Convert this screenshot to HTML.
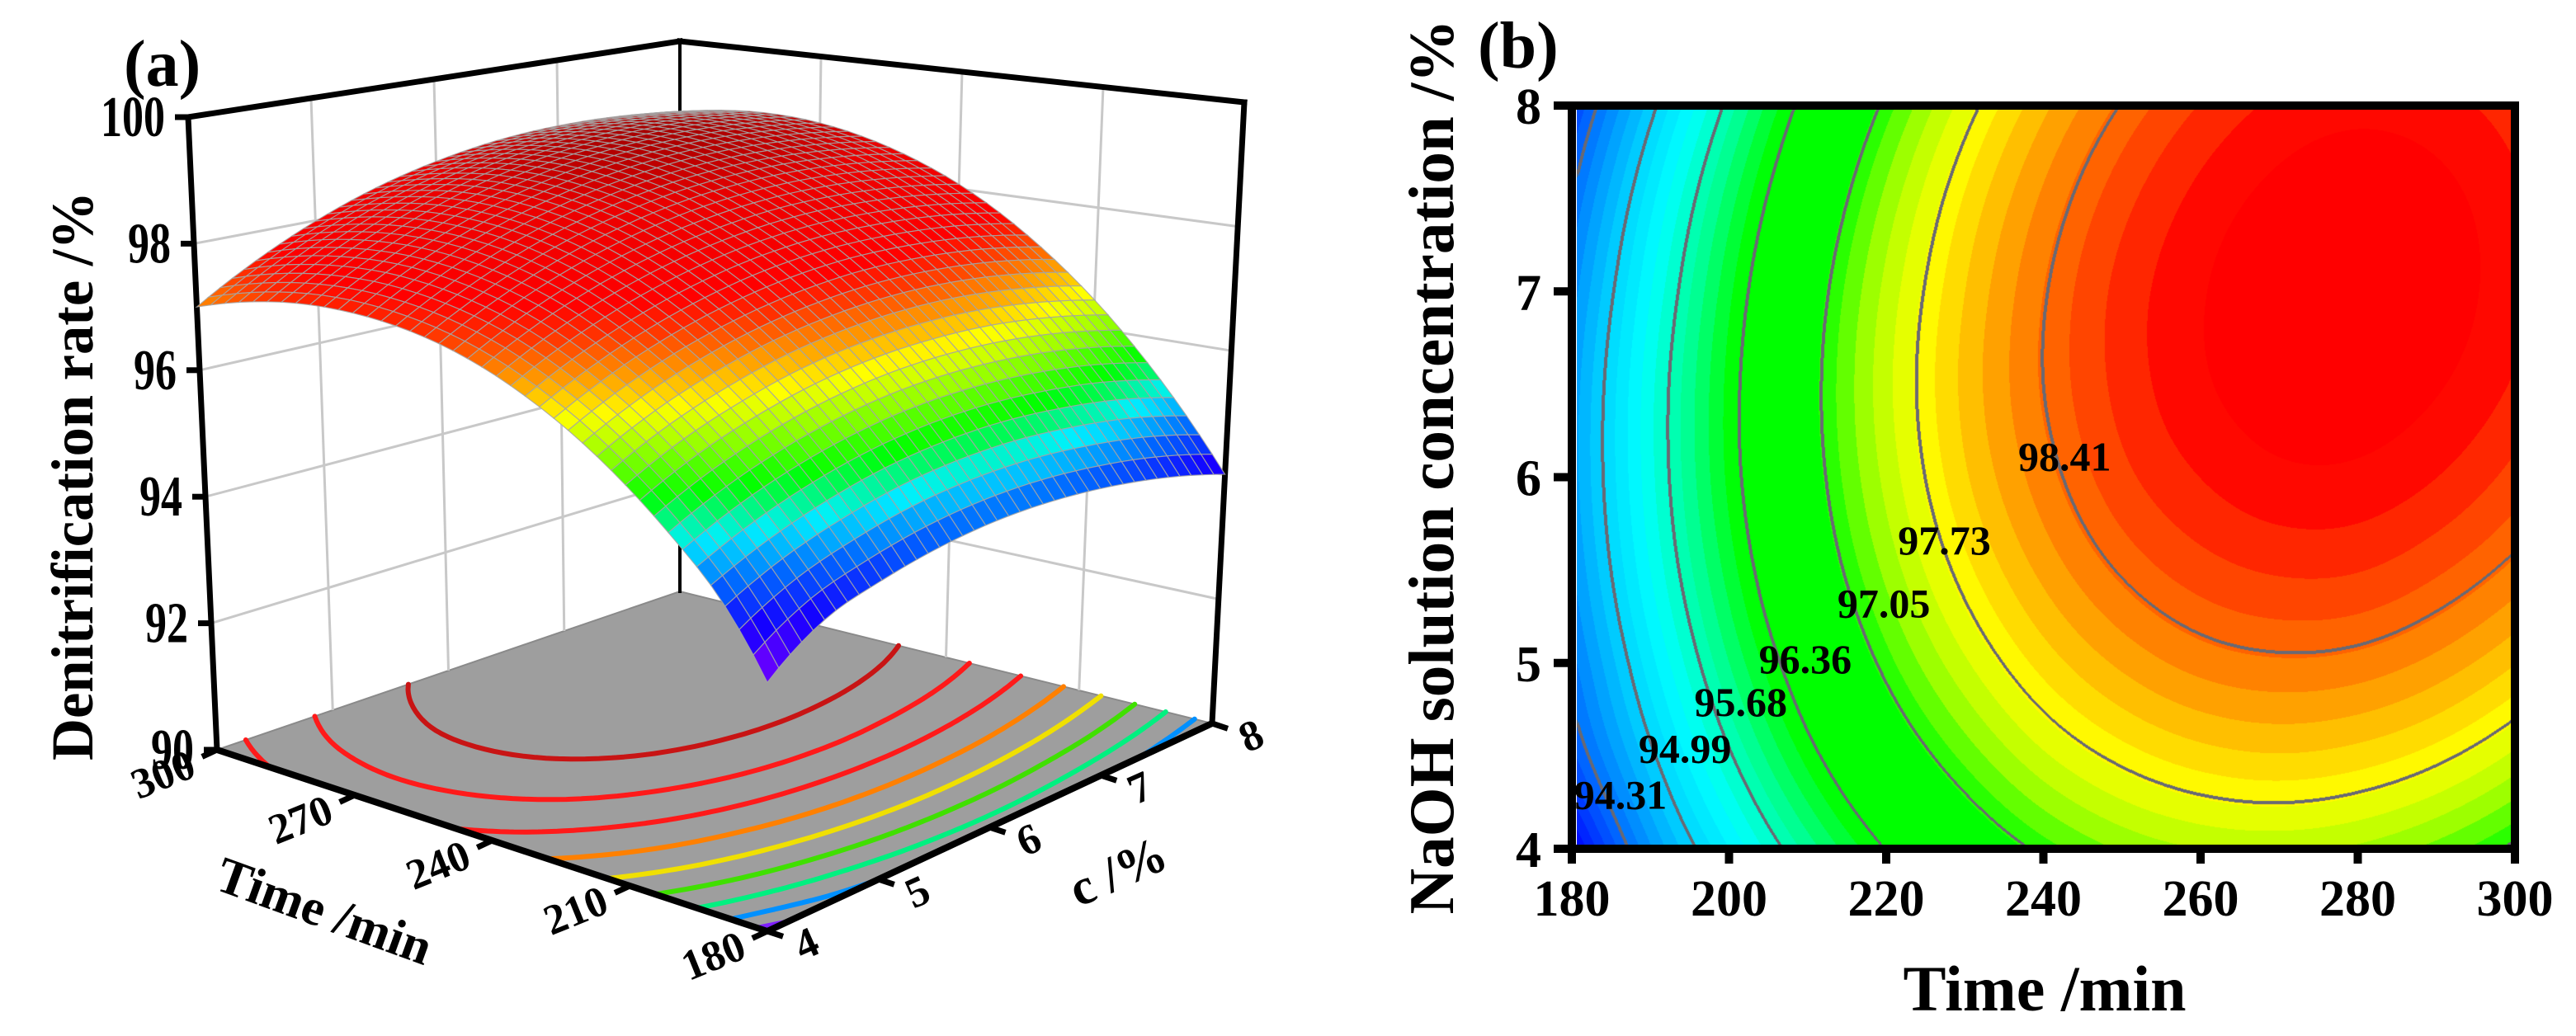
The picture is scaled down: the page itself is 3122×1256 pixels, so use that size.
<!DOCTYPE html>
<html><head><meta charset="utf-8"><style>
html,body{margin:0;padding:0;background:#fff;}
body{width:3122px;height:1256px;position:relative;overflow:hidden;font-family:"Liberation Serif",serif;}
#heatmap{position:absolute;left:1911px;top:133px;}
#chart-svg{position:absolute;left:0;top:0;}
text{font-family:"Liberation Serif",serif;font-weight:bold;fill:#000;}
</style></head><body>
<canvas id="heatmap" width="1132" height="892"></canvas>
<svg id="chart-svg" width="3122" height="1256" viewBox="0 0 3122 1256" xmlns="http://www.w3.org/2000/svg">
<g id="g3d"></g>
<g id="g2d"></g>
<text x="150" y="104" font-size="80">(a)</text>
<text x="1791" y="82" font-size="80">(b)</text>
<text transform="translate(112,577) rotate(-90)" text-anchor="middle" font-size="72" textLength="690" lengthAdjust="spacingAndGlyphs">Denitrification rate /%</text>
<text transform="translate(393,1105) rotate(20)" text-anchor="middle" dominant-baseline="central" font-size="62">Time /min</text>
<text transform="translate(1355,1057) rotate(-24)" text-anchor="middle" dominant-baseline="central" font-size="62">c /%</text>
<text x="2478" y="1225" text-anchor="middle" font-size="78">Time /min</text>
<text transform="translate(1761,566) rotate(-90)" text-anchor="middle" font-size="77" textLength="1085" lengthAdjust="spacingAndGlyphs">NaOH solution concentration /%</text>
</svg>
<script>
const timeVals=[180,190,200,210,220,230,240,250,260,270,280,290,300];
const concVals=[4,4.5,5,5.5,6,6.5,7,7.5,8];
const rateGrid=[
[93.55,94.13,94.39,94.56,94.64,94.62,94.51,94.31,94.01],
[94.56,94.94,95.21,95.40,95.49,95.49,95.39,95.21,94.92],
[95.26,95.65,95.94,96.14,96.25,96.26,96.18,96.01,95.74],
[95.86,96.27,96.57,96.79,96.91,96.94,96.88,96.72,96.47],
[96.37,96.79,97.11,97.34,97.48,97.53,97.48,97.34,97.10],
[96.78,97.21,97.55,97.80,97.96,98.02,97.98,97.86,97.64],
[97.10,97.55,97.90,98.16,98.33,98.41,98.39,98.28,98.08],
[97.32,97.78,98.15,98.43,98.62,98.71,98.71,98.61,98.42],
[97.44,97.92,98.31,98.60,98.80,98.91,98.92,98.84,98.67],
[97.47,97.97,98.37,98.68,98.90,99.02,99.05,98.98,98.83],
[97.41,97.92,98.34,98.67,98.90,99.03,99.08,99.03,98.89],
[97.25,97.78,98.21,98.55,98.80,98.95,99.01,98.98,98.85],
[97.00,97.54,97.99,98.35,98.61,98.78,98.85,98.83,98.72]];
const contourLevels=[94.31,94.99,95.68,96.36,97.05,97.73,98.41];
const labelTimes=[186.2,194.4,201.5,209.7,219.7,227.4,242.7];
const labelConcs=[4.29,4.54,4.79,5.02,5.32,5.66,6.11];
const xTicks=[180,200,220,240,260,280,300];
const yTicks=[4,5,6,7,8];
const zTicks3d=[90,92,94,96,98,100];
const timeTicks3d=[180,210,240,270,300];
const concTicks3d=[4,5,6,7,8];
const floorLevels=[93.8,94.38,94.96,95.54,96.12,96.7,97.28,97.86,98.44];
const floorColors=['#7f1fff','#0090ff','#00f080','#40e000','#f0e000','#ff8000','#ff1a1a','#ff1a1a','#c81414'];
const surfZ=[93.6,94.2,94.7,95.2,95.7,96.2,96.6,97.0,97.4,97.7,98.6,99.1];
const surfRGB=[[130,0,255],[20,0,255],[0,100,255],[0,240,255],[0,255,0],[150,255,0],[255,255,0],[255,150,0],[255,50,0],[255,0,0],[235,0,0],[165,0,0]];
const mapZ=[93.6,94.3,95.0,95.4,95.9,96.3,97.0,97.4,97.75,98.1,98.5,98.9];
const mapRGB=[[0,0,255],[0,110,255],[0,215,255],[0,255,255],[0,255,140],[0,255,0],[0,255,0],[170,255,0],[255,255,0],[255,180,0],[255,90,0],[255,0,0]];

const NS='http://www.w3.org/2000/svg';
const NI=timeVals.length, NJ=concVals.length;
function gv(i,j){
  if(i<0) return 3*gv(0,j)-3*gv(1,j)+gv(2,j);
  if(i>=NI) return 3*gv(NI-1,j)-3*gv(NI-2,j)+gv(NI-3,j);
  if(j<0) return 3*gv(i,0)-3*gv(i,1)+gv(i,2);
  if(j>=NJ) return 3*gv(i,NJ-1)-3*gv(i,NJ-2)+gv(i,NJ-3);
  return rateGrid[i][j];
}
const ext=[];
for(let i=-1;i<=NI;i++){const row=[];for(let j=-1;j<=NJ;j++)row.push(gv(i,j));ext.push(row);}
function kern(x){x=Math.abs(x);if(x<=1)return 1.5*x*x*x-2.5*x*x+1;if(x<2)return -0.5*x*x*x+2.5*x*x-4*x+2;return 0;}
function rate(t,c){
  const fx=(t-timeVals[0])/(timeVals[1]-timeVals[0]);
  const fy=(c-concVals[0])/(concVals[1]-concVals[0]);
  const i=Math.min(Math.max(Math.floor(fx),0),NI-2);
  const j=Math.min(Math.max(Math.floor(fy),0),NJ-2);
  const sx=fx-i, sy=fy-j;
  let z=0;
  for(let a=-1;a<=2;a++){const wa=kern(sx-a);if(wa===0)continue;
    for(let b=-1;b<=2;b++){const wb=kern(sy-b);if(wb===0)continue;z+=wa*wb*ext[i+a+1][j+b+1];}}
  return z;
}
function cmap(zs,cols,z){
  if(z<=zs[0])return cols[0];
  for(let k=1;k<zs.length;k++){if(z<=zs[k]){const f=(z-zs[k-1])/(zs[k]-zs[k-1]);
    return [0,1,2].map(q=>Math.round(cols[k-1][q]+f*(cols[k][q]-cols[k-1][q])));}}
  return cols[cols.length-1];
}
function mk(tag,attrs,parent){const e=document.createElementNS(NS,tag);for(const k in attrs)e.setAttribute(k,attrs[k]);parent.appendChild(e);return e;}

/* ---------------- 2D contour panel ---------------- */
const X0=1905,X1=3048,Y0=1029,Y1=128;
function xs(t){return X0+(t-180)/120*(X1-X0);}
function ys(c){return Y0-(c-4)/4*(Y0-Y1);}
(function(){
  const cv=document.getElementById('heatmap');const ctx=cv.getContext('2d');
  const W=cv.width,H=cv.height;const img=ctx.createImageData(W,H);
  const zb=new Float32Array(W*H);const idx=new Int8Array(W*H);
  const step=(contourLevels[1]-contourLevels[0])/5;
  for(let py=0;py<H;py++){const c=4+(Y0-(133+py+0.5))/(Y0-Y1)*4;
    for(let px=0;px<W;px++){const t=180+(1911+px+0.5-X0)/(X1-X0)*120;
      const z=rate(t,c);zb[py*W+px]=z;let n=0;for(const L of contourLevels)if(z>=L)n++;idx[py*W+px]=n;}}
  for(let py=0;py<H;py++)for(let px=0;px<W;px++){
    const p=py*W+px;const z=zb[p];
    const zq=contourLevels[0]+(Math.floor((z-contourLevels[0])/step)+0.5)*step;
    let col=cmap(mapZ,mapRGB,zq);
    const n=idx[p];let line=false;
    if(px>=2&&idx[p-2]!==n)line=true;else if(px<W-2&&idx[p+2]!==n)line=true;
    else if(py>=2&&idx[p-2*W]!==n)line=true;else if(py<H-2&&idx[p+2*W]!==n)line=true;
    if(line)col=[105,105,115];
    img.data[p*4]=col[0];img.data[p*4+1]=col[1];img.data[p*4+2]=col[2];img.data[p*4+3]=255;}
  ctx.putImageData(img,0,0);
  const g=document.getElementById('g2d');
  for(let k=0;k<contourLevels.length;k++){
    const tx=mk('text',{x:xs(labelTimes[k]),y:ys(labelConcs[k]),'text-anchor':'middle','dominant-baseline':'central','font-size':50},g);
    
    
    tx.textContent=contourLevels[k].toFixed(2);}
  const fr=mk('rect',{x:X0,y:Y1,width:X1-X0,height:Y0-Y1,fill:'none',stroke:'#000','stroke-width':10},g);
  
  
  for(const t of xTicks){
    const l=mk('line',{x1:xs(t),x2:xs(t),y1:Y0,y2:Y0+18,stroke:'#000','stroke-width':10},g);
    
    
    const tx=mk('text',{x:xs(t),y:1110,'text-anchor':'middle','font-size':62},g);
    
    
    tx.textContent=t;}
  for(const c of yTicks){
    const l=mk('line',{x1:X0,x2:X0-22,y1:ys(c),y2:ys(c),stroke:'#000','stroke-width':10},g);
    
    
    const tx=mk('text',{x:1868,y:ys(c)+22,'text-anchor':'end','font-size':62},g);
    
    
    tx.textContent=c;}
})();

/* ---------------- 3D surface panel ---------------- */
const FLO={F:[930,1129],L:[263,909],R:[1469,877],B:[824,717]};
const TOP={F:[930,279],L:[228,142],R:[1508,124],B:[824,50]};
function bil(q,u,v){return [0,1].map(k=>(1-u)*(1-v)*q.F[k]+u*(1-v)*q.L[k]+(1-u)*v*q.R[k]+u*v*q.B[k]);}
function proj(t,c,z){const u=(t-180)/120,v=(c-4)/4,w=(z-90)/10;const a=bil(FLO,u,v),b=bil(TOP,u,v);return [a[0]+w*(b[0]-a[0]),a[1]+w*(b[1]-a[1])];}
function pts(arr){return arr.map(p=>p[0].toFixed(1)+','+p[1].toFixed(1)).join(' ');}
(function(){
  const g=document.getElementById('g3d');
  const fl=mk('polygon',{points:pts([proj(180,4,90),proj(300,4,90),proj(300,8,90),proj(180,8,90)]),fill:'#9e9e9e',stroke:'#8a8a8a','stroke-width':2},g);
  
  
  for(const c of [5,6,7]){const a=proj(300,c,90),b=proj(300,c,100);
    const l=mk('line',{x1:a[0],y1:a[1],x2:b[0],y2:b[1],stroke:'#c8c8c8','stroke-width':3},g);
    
    }
  for(const t of [210,240,270]){const a=proj(t,8,90),b=proj(t,8,100);
    const l=mk('line',{x1:a[0],y1:a[1],x2:b[0],y2:b[1],stroke:'#c8c8c8','stroke-width':3},g);
    
    }
  for(const z of zTicks3d.slice(1,-1)){
    const p=[proj(300,4,z),proj(300,8,z),proj(180,8,z)];
    const l=mk('polyline',{points:pts(p),fill:'none',stroke:'#c8c8c8','stroke-width':3},g);
    
    }
  const edges=[[proj(300,4,90),proj(300,4,100),7],[proj(300,4,100),proj(300,8,100),7],[proj(300,8,100),proj(180,8,100),7],[proj(180,8,100),proj(180,8,90),7],[proj(300,8,100),proj(300,8,90),4]];
  for(const e of edges){const l=mk('line',{x1:e[0][0],y1:e[0][1],x2:e[1][0],y2:e[1][1],stroke:'#000','stroke-width':e[2],'stroke-linecap':'square'},g);
    
    }
  const M=70;const f=[];
  for(let i=0;i<=M;i++){const r=[];for(let j=0;j<=M;j++)r.push(rate(180+120*i/M,4+4*j/M));f.push(r);}
  for(let k=0;k<floorLevels.length;k++){const L=floorLevels[k];let d='';
    for(let i=0;i<M;i++)for(let j=0;j<M;j++){
      const cs=[[i,j],[i+1,j],[i+1,j+1],[i,j+1]];const cp=[];
      for(let e=0;e<4;e++){const a=cs[e],b=cs[(e+1)%4];const za=f[a[0]][a[1]],zb=f[b[0]][b[1]];
        if((za<L)!==(zb<L)){const s=(L-za)/(zb-za);const ii=a[0]+s*(b[0]-a[0]),jj=a[1]+s*(b[1]-a[1]);cp.push(proj(180+120*ii/M,4+4*jj/M,90));}}
      for(let q=0;q+1<cp.length;q+=2)d+='M'+cp[q][0].toFixed(1)+' '+cp[q][1].toFixed(1)+'L'+cp[q+1][0].toFixed(1)+' '+cp[q+1][1].toFixed(1);}
    const p=mk('path',{d:d,fill:'none',stroke:floorColors[k],'stroke-width':6,'stroke-linecap':'round'},g);
    
    }
  const N=40;const Z=[];const P=[];
  for(let i=0;i<=N;i++){Z.push([]);P.push([]);for(let j=0;j<=N;j++){const t=180+120*i/N,c=4+4*j/N;const z=rate(t,c);Z[i].push(z);P[i].push(proj(t,c,z));}}
  const cells=[];for(let i=0;i<N;i++)for(let j=0;j<N;j++)cells.push([i,j]);
  cells.sort((a,b)=>(b[0]+b[1])-(a[0]+a[1]));
  const sg=mk('g',{},g);
  
  
  for(const [i,j] of cells){
    const zavg=(Z[i][j]+Z[i+1][j]+Z[i+1][j+1]+Z[i][j+1])/4;const col=cmap(surfZ,surfRGB,zavg);
    const pg=mk('polygon',{points:pts([P[i][j],P[i+1][j],P[i+1][j+1],P[i][j+1]]),fill:'rgb('+col.join(',')+')',stroke:'rgba(165,165,165,0.85)','stroke-width':1.2},sg);
    
    }
  const fe=mk('polyline',{points:pts([proj(300,4,90),proj(180,4,90),proj(180,8,90)]),fill:'none',stroke:'#000','stroke-width':8,'stroke-linejoin':'miter'},g);
  
  
  for(const z of zTicks3d){const p=proj(300,4,z);
    const l=mk('line',{x1:p[0],y1:p[1],x2:p[0]-16,y2:p[1],stroke:'#000','stroke-width':7},g);
    
    
    const tx=mk('text',{transform:'translate('+(p[0]-28).toFixed(1)+','+(p[1]+23).toFixed(1)+') scale(1,1.35)','text-anchor':'end','font-size':52},g);
    
    
    tx.textContent=z;}
  const F0=proj(180,4,90),R0=proj(180,8,90),L0=proj(300,4,90);
  let dx=F0[0]-R0[0],dy=F0[1]-R0[1];let nn=Math.hypot(dx,dy);dx/=nn;dy/=nn;
  for(const t of timeTicks3d){const p=proj(t,4,90);
    const l=mk('line',{x1:p[0],y1:p[1],x2:p[0]+dx*20,y2:p[1]+dy*20,stroke:'#000','stroke-width':7},g);
    
    
    const tx=mk('text',{transform:'translate('+(p[0]+dx*72).toFixed(1)+','+(p[1]+dy*72).toFixed(1)+') rotate(-22)','text-anchor':'middle','dominant-baseline':'central','font-size':52},g);
    
    
    tx.textContent=t;}
  let ex=F0[0]-L0[0],ey=F0[1]-L0[1];nn=Math.hypot(ex,ey);ex/=nn;ey/=nn;
  for(const c of concTicks3d){const p=proj(180,c,90);
    const l=mk('line',{x1:p[0],y1:p[1],x2:p[0]+ex*20,y2:p[1]+ey*20,stroke:'#000','stroke-width':7},g);
    
    
    const tx=mk('text',{transform:'translate('+(p[0]+ex*50).toFixed(1)+','+(p[1]+ey*50).toFixed(1)+') rotate(-24)','text-anchor':'middle','dominant-baseline':'central','font-size':52},g);
    
    
    tx.textContent=c;}
})();
</script>
</body></html>
